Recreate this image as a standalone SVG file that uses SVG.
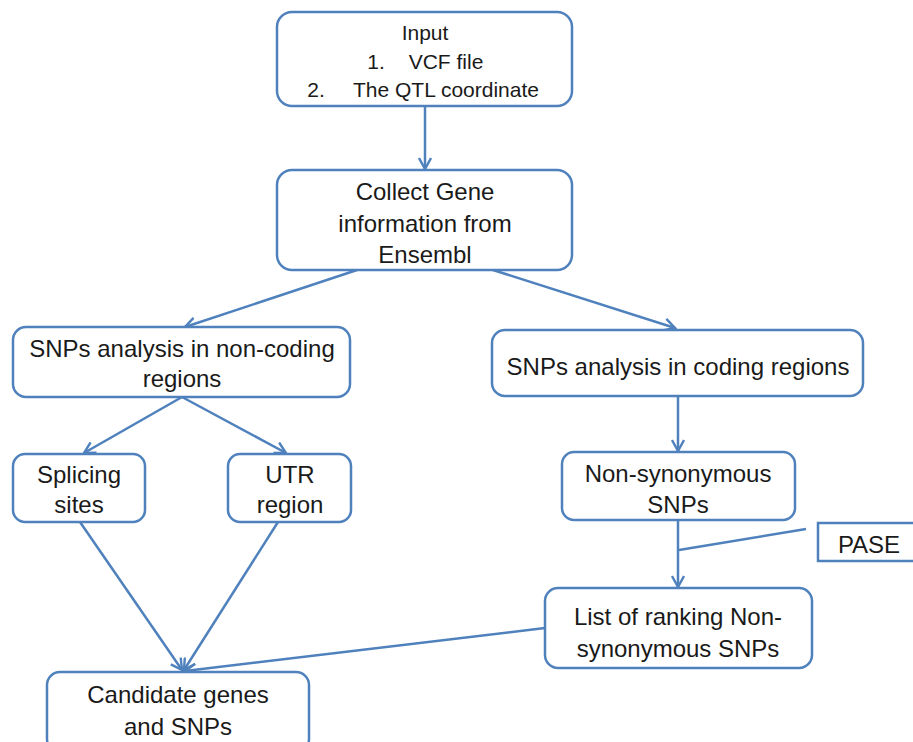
<svg xmlns="http://www.w3.org/2000/svg" width="913" height="742" viewBox="0 0 913 742">
<defs>
<marker id="arr" viewBox="0 0 14 14" refX="12" refY="7" markerWidth="14" markerHeight="14" markerUnits="userSpaceOnUse" orient="auto">
<path d="M1,1 L12,7 L1,13" fill="none" stroke="#4F81BD" stroke-width="2.4"/>
</marker>
</defs>
<style>
.box{fill:#fff;stroke:#4F81BD;stroke-width:2.5}
.t{font-family:"Liberation Sans",Arial,sans-serif;font-size:24px;fill:#1a1a1a;text-anchor:middle}
.s{font-size:21px}
.c{fill:none;stroke:#4F81BD;stroke-width:2.5}
</style>
<rect width="913" height="742" fill="#fff"/>
<g id="connectors">
<line class="c" x1="425" y1="106" x2="425" y2="169" marker-end="url(#arr)"/>
<line class="c" x1="357" y1="270" x2="185" y2="327" marker-end="url(#arr)"/>
<line class="c" x1="493" y1="270" x2="675" y2="328" marker-end="url(#arr)"/>
<line class="c" x1="182" y1="397" x2="84" y2="453" marker-end="url(#arr)"/>
<line class="c" x1="182" y1="397" x2="286" y2="453" marker-end="url(#arr)"/>
<line class="c" x1="678" y1="396" x2="678" y2="451" marker-end="url(#arr)"/>
<line class="c" x1="678" y1="520" x2="678" y2="587" marker-end="url(#arr)"/>
<line class="c" x1="679" y1="550" x2="806" y2="529"/>
<line class="c" x1="80" y1="522" x2="182" y2="670" marker-end="url(#arr)"/>
<line class="c" x1="278" y1="522" x2="184" y2="670" marker-end="url(#arr)"/>
<line class="c" x1="545" y1="628" x2="185" y2="671" marker-end="url(#arr)"/>
</g>
<g id="input">
<rect class="box" x="277" y="12" width="295" height="94" rx="15"/>
<text class="t s" x="425" y="40">Input</text>
<text class="t s" x="376" y="69">1.</text>
<text class="t s" x="446" y="69">VCF file</text>
<text class="t s" x="316" y="97">2.</text>
<text class="t s" x="446" y="97">The QTL coordinate</text>
</g>
<g id="collect">
<rect class="box" x="277" y="170" width="295" height="100" rx="15"/>
<text class="t" x="425" y="200">Collect Gene</text>
<text class="t" x="425" y="232">information from</text>
<text class="t" x="425" y="263">Ensembl</text>
</g>
<g id="noncoding">
<rect class="box" x="13" y="327" width="337" height="70" rx="13"/>
<text class="t" x="182" y="357">SNPs analysis in non-coding</text>
<text class="t" x="182" y="387">regions</text>
</g>
<g id="coding">
<rect class="box" x="492" y="330" width="371" height="66" rx="13"/>
<text class="t" x="678" y="375">SNPs analysis in coding regions</text>
</g>
<g id="splicing">
<rect class="box" x="13" y="454" width="132" height="68" rx="12"/>
<text class="t" x="79" y="483">Splicing</text>
<text class="t" x="79" y="513">sites</text>
</g>
<g id="utr">
<rect class="box" x="228" y="454" width="123" height="68" rx="12"/>
<text class="t" x="290" y="483">UTR</text>
<text class="t" x="290" y="513">region</text>
</g>
<g id="nonsyn">
<rect class="box" x="562" y="452" width="233" height="68" rx="12"/>
<text class="t" x="678" y="482">Non-synonymous</text>
<text class="t" x="678" y="513">SNPs</text>
</g>
<g id="pase">
<rect class="box" x="818" y="523" width="110" height="38"/>
<text class="t" x="869" y="553">PASE</text>
</g>
<g id="list">
<rect class="box" x="545" y="588" width="267" height="80" rx="13"/>
<text class="t" x="678" y="625">List of ranking Non-</text>
<text class="t" x="678" y="657">synonymous SNPs</text>
</g>
<g id="candidate">
<rect class="box" x="47" y="672" width="262" height="80" rx="13"/>
<text class="t" x="178" y="703">Candidate genes</text>
<text class="t" x="178" y="735">and SNPs</text>
</g>
</svg>
